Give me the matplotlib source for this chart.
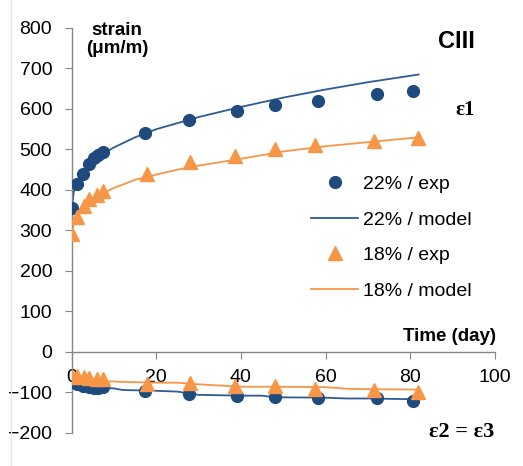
import matplotlib.pyplot as plt
from matplotlib.lines import Line2D

plt.rcParams['font.family'] = ['Liberation Sans', 'DejaVu Sans']

# ---- measured strains (exp) ----
days_22 = [0, 1.2, 2.7, 4.2, 5.3, 6.3, 7.3, 17.3, 27.8, 39.1, 48.1, 58.3, 72.2, 80.6]
e1_22 = [355, 415, 440, 465, 478, 487, 493, 540, 572, 596, 610, 620, 638, 645]
e2_22 = [-75, -80, -85, -87, -88, -88, -87, -97, -104, -110, -112, -115, -115, -120]

days_18 = [0, 1.2, 2.9, 4.2, 5.9, 7.5, 17.7, 28.0, 38.7, 48.1, 57.5, 71.4, 81.9]
e1_18 = [290, 333, 360, 378, 388, 397, 440, 470, 483, 500, 510, 520, 528]
e2_18 = [-62, -60, -63, -65, -67, -67, -80, -76, -85, -85, -92, -93, -98]

# ---- model curves ----
t_mod = [0, 0.5, 1, 2, 3, 5, 7, 10, 15, 20, 25, 30, 40, 50, 60, 70, 82]
m1_22 = [350, 395, 410, 430, 447, 470, 487, 505, 530, 550, 565, 580, 605, 628, 648, 666, 685]
m1_18 = [290, 320, 335, 350, 360, 375, 390, 405, 425, 438, 450, 460, 477, 495, 508, 518, 530]

t_mod2 = [0, 1, 3, 7, 10, 12, 20, 25, 30, 40, 45, 48, 60, 65, 70, 82]
m2_22 = [-65, -78, -84, -89, -90, -94, -96, -98, -106, -108, -108, -112, -113, -115, -115, -117]
m2_18 = [-60, -66, -70, -73, -73, -74, -76, -76, -80, -86, -86, -86, -87, -91, -92, -93]

BLUE_PT = '#1f4a7e'
BLUE_LN = '#2f5a96'
ORANGE = '#f79646'

fig = plt.figure(figsize=(5.23, 4.66), dpi=100)
ax = fig.add_axes([0.137, 0.071, 0.809, 0.869])

# model: eps1 branch back to t=0, then eps2 branch
ax.plot(t_mod[::-1] + t_mod2, m1_22[::-1] + m2_22, color=BLUE_LN, lw=1.3,
        label='22% / model', zorder=2)
ax.plot(t_mod[::-1] + t_mod2, m1_18[::-1] + m2_18, color=ORANGE, lw=1.3,
        label='18% / model', zorder=2)

ax.plot(days_22, e1_22, 'o', color=BLUE_PT, ms=8.5, label='22% / exp', zorder=3)
ax.plot(days_22, e2_22, 'o', color=BLUE_PT, ms=8.5, zorder=3)
ax.plot(days_18, e1_18, '^', color=ORANGE, ms=10, label='18% / exp', zorder=3)
ax.plot(days_18, e2_18, '^', color=ORANGE, ms=10, zorder=3)

ax.set_xlim(0, 100)
ax.set_ylim(-200, 800)
ax.set_xticks(range(0, 101, 20))
ax.set_yticks(range(-200, 801, 100))

for s in ['top', 'right']:
    ax.spines[s].set_visible(False)
ax.spines['bottom'].set_position(('data', 0))
for s in ['left', 'bottom']:
    ax.spines[s].set_color('#868686')
    ax.spines[s].set_linewidth(1.0)
ax.tick_params(axis='both', direction='out', length=5, color='#868686',
               labelsize=14)
ax.tick_params(axis='y', pad=9)
ax.tick_params(axis='x', pad=7)

h, l = ax.get_legend_handles_labels()
order = [l.index(k) for k in ['22% / exp', '22% / model', '18% / exp', '18% / model']]
ax.legend([h[i] for i in order], [l[i] for i in order], loc='upper left',
          bbox_to_anchor=(0.595, 0.624), bbox_transform=fig.transFigure,
          frameon=False, fontsize=14, handlelength=2.4, handletextpad=0.25,
          labelspacing=0.93, borderaxespad=0, borderpad=0)

fig.text(0.224, 0.953, 'strain\n(\u03bcm/m)', ha='center', va='top',
         fontsize=13.5, fontweight='bold', linespacing=1.05)
fig.text(0.872, 0.912, 'CIII', ha='center', va='center', fontsize=17,
         fontweight='bold')
fig.text(0.89, 0.765, '\u03b51', ha='center', va='center', fontsize=15,
         fontweight='bold', family=['Liberation Serif', 'DejaVu Serif'])
fig.text(0.883, 0.073, '\u03b52 = \u03b53', ha='center', va='center', fontsize=16,
         fontweight='bold', family=['Liberation Serif', 'DejaVu Serif'])
fig.text(0.949, 0.277, 'Time (day)', ha='right', va='center', fontsize=13.5,
         fontweight='bold')

fig.add_artist(Line2D([0.021, 0.021], [0, 1], color='#e6e6e6', lw=1))

fig.savefig('out.png', dpi=100)
